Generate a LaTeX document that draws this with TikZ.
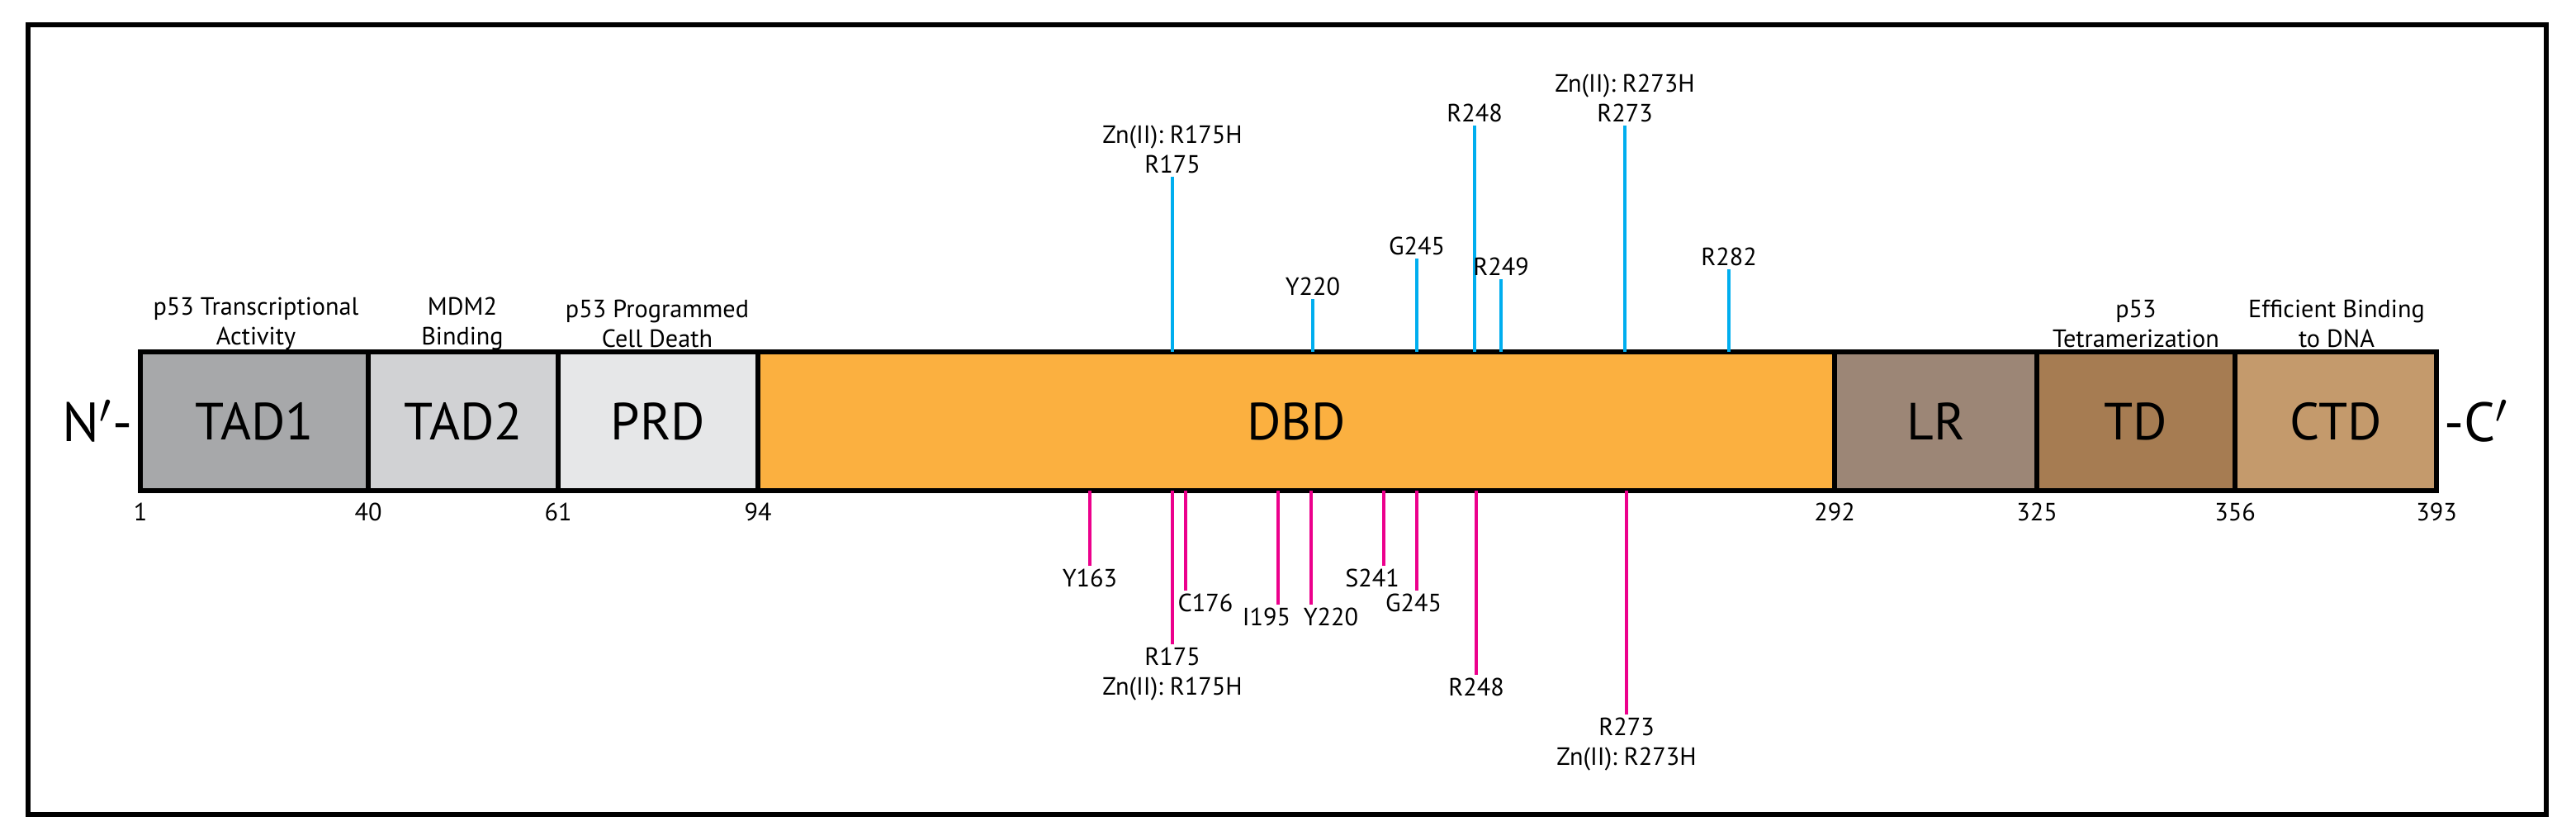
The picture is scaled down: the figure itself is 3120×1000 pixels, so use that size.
\documentclass[tikz,border=0pt]{standalone}
\usepackage{fontspec}
\setmainfont{PT Sans}
\begin{document}
\begin{tikzpicture}[x=0.01cm,y=-0.01cm,
  dom/.style={draw=black,line width=1.6pt},
  dlab/.style={inner sep=0pt,font=\fontsize{18}{20}\selectfont},
  lab/.style={font=\fontsize{8.6}{10.2}\selectfont,align=center,inner sep=1pt},
  up/.style={draw=upc,line width=1.4pt},
  dn/.style={draw=dnc,line width=1.4pt}]
\definecolor{upc}{HTML}{00AEEF}\definecolor{dnc}{HTML}{EC008C}
\definecolor{c1}{HTML}{A7A8AA}\definecolor{c2}{HTML}{D1D2D4}\definecolor{c3}{HTML}{E6E7E8}
\definecolor{c4}{HTML}{FBB040}\definecolor{c5}{HTML}{9C8676}\definecolor{c6}{HTML}{A67C52}\definecolor{c7}{HTML}{C49A6C}
\useasboundingbox (0,0) rectangle (3120,1000);
\draw[line width=1.5pt] (34,30) rectangle (3084,986);
% domains
\foreach \n/\a/\b/\c/\t in {tad1/170/446/c1/TAD1,tad2/446/676/c2/TAD2,prd/676/918/c3/PRD,dbd/918/2222/c4/DBD,lr/2222/2467/c5/LR,td/2467/2707/c6/TD,ctd/2707/2951/c7/CTD}{
  \draw[dom,fill=\c] (\a,426) rectangle (\b,594);
  \node[dlab] (\n) at ({(\a+\b)/2},510) {\t};
}
\node[font=\fontsize{19}{20}\selectfont,anchor=east,inner sep=2pt] (nt) at (168,510) {N$'$-};
\node[font=\fontsize{19}{20}\selectfont,anchor=west,inner sep=2pt] (ct) at (2953,510) {-C$'$};
% numbers
\foreach \x/\t in {170/1,446/40,676/61,918/94,2222/292,2467/325,2707/356,2951/393}
  \node[lab] (n\t) at (\x,620) {\t};
% top labels
\node[lab] (l1) at (310,392) {p53 Transcriptional\\Activity};
\node[lab] (l2) at (560,392) {MDM2\\Binding};
\node[lab] (l3) at (796,392) {p53 Programmed\\Cell Death};
\node[lab] (l4) at (2587,392) {p53\\Tetramerization};
\node[lab] (l5) at (2830,392) {Efficient Binding\\to DNA};
% up mutations
\foreach \nm/\x/\y/\t in {u175/1420/214/{Zn(II): R175H\\R175},u220/1590/362/Y220,u245/1716/313/G245,u248/1786/152/R248,u249/1818/338/R249,u273/1968/152/{Zn(II): R273H\\R273},u282/2094/326/R282}{
  \coordinate (c\nm) at (\x,426);
  \node[lab,anchor=south] (\nm) at (\x,\y) {\t};
  \draw[up] (\nm.south) -- (c\nm);
}
% down mutations
\foreach \nm/\x/\y/\t/\lx in {d163/1320/685/Y163/0,d175/1420/780/{R175\\Zn(II): R175H}/0,d176/1436/715/C176/24,d195/1548/732/I195/-14,d220/1588/732/Y220/24,d241/1676/685/S241/-14,d245/1716/715/G245/-4,d248/1788/817/R248/0,d273/1970/865/{R273\\Zn(II): R273H}/0}{
  \coordinate (c\nm) at (\x,594);
  \coordinate (e\nm) at (\x,\y);
  \node[lab,anchor=north] (\nm) at (\x+\lx,\y) {\t};
  \draw[dn] (c\nm) -- (e\nm);
}
\end{tikzpicture}
\end{document}
